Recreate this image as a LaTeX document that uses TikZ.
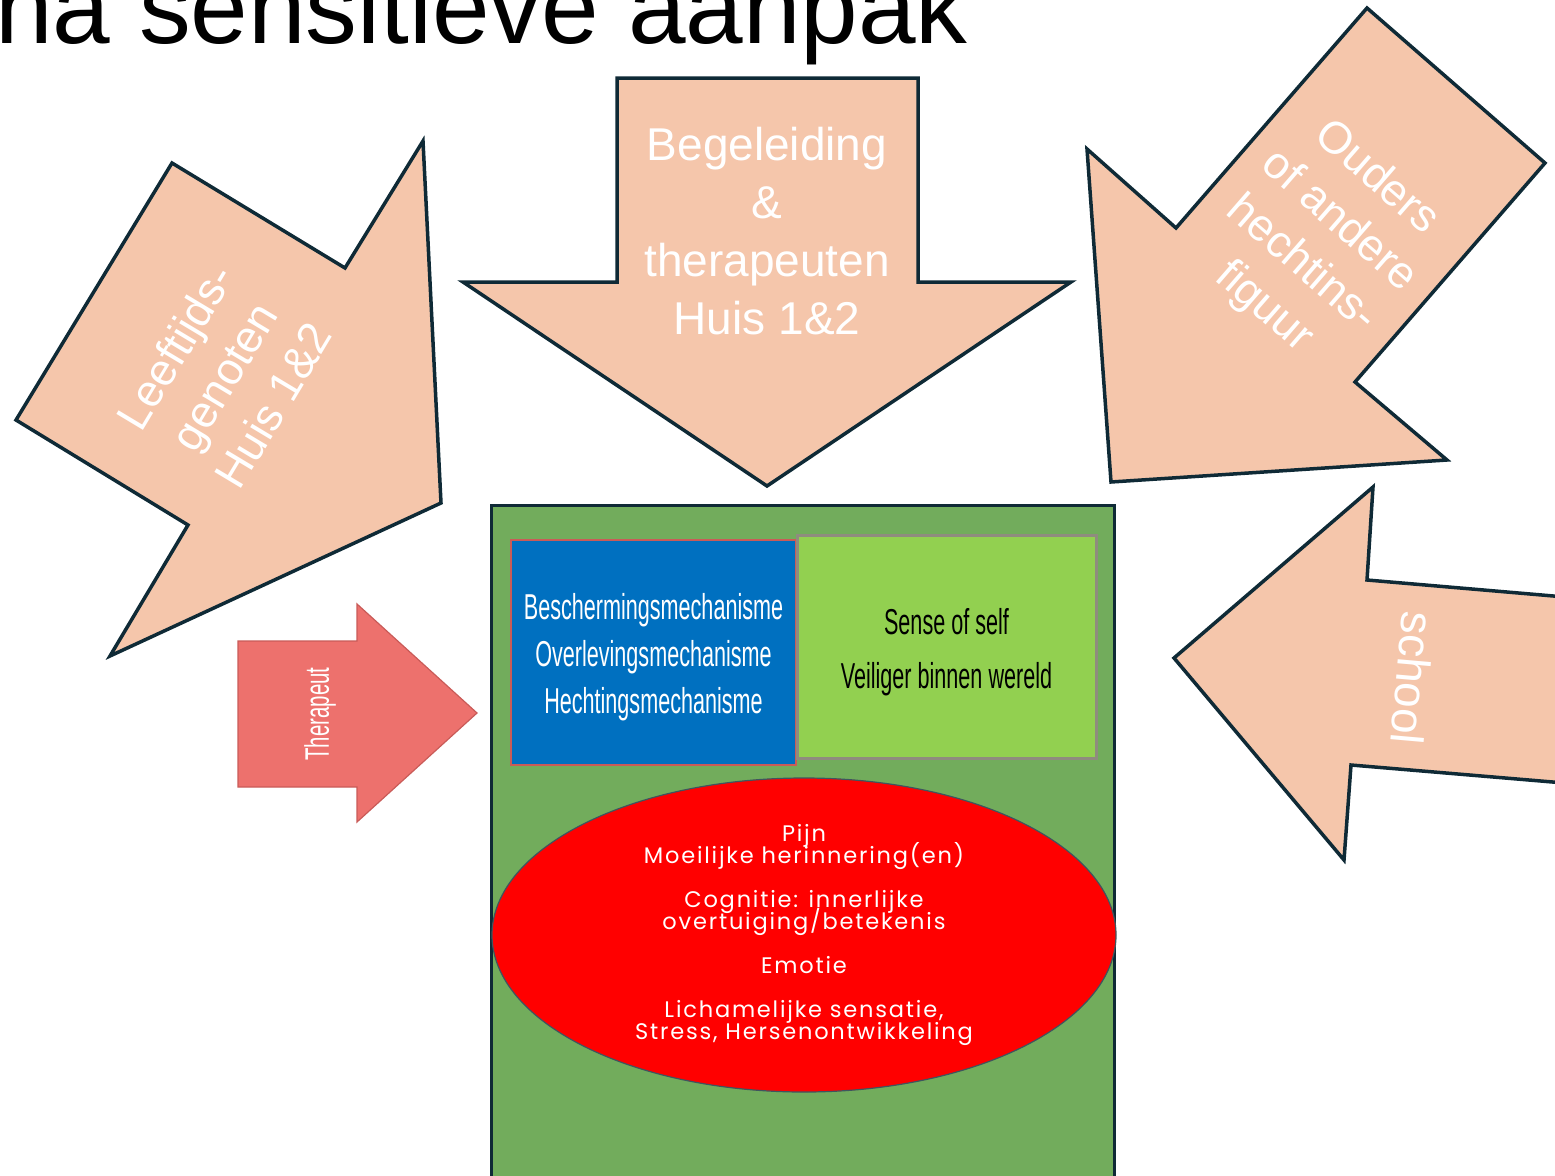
\documentclass[tikz,border=0pt]{standalone}
\usepackage{fontspec}
\setmainfont{Liberation Sans}
\newfontfamily\narrowfont[FakeStretch=0.6]{Liberation Sans}
\newfontfamily\spacedfont[LetterSpace=8]{Poppins}
\newcommand\corefont{\spacedfont\fontsize{22.5}{22}\selectfont\setlength{\lineskiplimit}{-50pt}}
\usetikzlibrary{shapes.geometric}
\definecolor{peach}{HTML}{F5C6AB}
\definecolor{inkline}{HTML}{0F2A36}
\definecolor{boxgreen}{HTML}{72AC5C}
\definecolor{limegreen}{HTML}{92D050}
\definecolor{mechblue}{HTML}{0070C0}
\definecolor{salmon}{HTML}{ED716D}
\definecolor{salmonline}{HTML}{C95B58}
\definecolor{frame}{HTML}{8F8C7E}

\begin{document}
\begin{tikzpicture}[x=1pt,y=-1pt,
    bigarrow/.style={fill=peach, draw=inkline, line width=3.5pt, line join=miter},
    arrowtext/.style={text=white, align=center, inner sep=0pt, font=\fontsize{45}{57}\selectfont},
    mechtext/.style={align=center, inner sep=0pt, font=\narrowfont\fontsize{36}{47}\selectfont}]
    \useasboundingbox (0,0) rectangle (1555,1175);
    \clip (0,0) rectangle (1555,1175);

    % title, cut off by the page
    \node[anchor=base east, inner sep=0pt, font=\fontsize{103.5}{110}\selectfont] (title) at (968,43) {na sensitieve aanpak};

    % big arrows
    \draw[bigarrow] (172,163) -- (345,268) -- (423,141) -- (441,503) -- (110,656) -- (188,525) -- (16,420) -- cycle;
    \node[arrowtext, rotate=59] (peers) at (224,376) {Leeftijds-\\genoten\\Huis 1\&2};

    \draw[bigarrow] (617,78) -- (918,78) -- (918,282) -- (1071,282) -- (767,486) -- (463,282) -- (617,282) -- cycle;
    \node[arrowtext, font=\fontsize{46}{58}\selectfont] (staff) at (767,231) {Begeleiding\\\&\\therapeuten\\Huis 1\&2};

    \draw[bigarrow] (1367,8) -- (1545,163) -- (1355,382) -- (1447,460) -- (1111,482) -- (1087,149) -- (1176,228) -- cycle;
    \node[arrowtext, rotate=-41] (parents) at (1320,243) {Ouders\\of andere\\hechtins-\\figuur};

    \draw[bigarrow] (1174,658) -- (1373,487) -- (1367,580) -- (1600,600) -- (1600,786) -- (1351,765) -- (1344,860) -- cycle;
    \node[arrowtext, rotate=-95, font=\fontsize{46}{50}\selectfont] (school) at (1413,678) {school};

    % therapeut
    \draw[fill=salmon, draw=salmonline, line width=1.2pt] (238,641) -- (357,641) -- (357,604) -- (477,713) -- (357,822) -- (357,787) -- (238,787) -- cycle;
    \node[mechtext, text=white, rotate=90, font=\narrowfont\fontsize{34}{40}\selectfont] (therapist) at (320,714) {Therapeut};

    % child
    \draw[fill=boxgreen, draw=inkline, line width=3pt] (491,505) rectangle (1114,1200);
    \node[draw=salmonline, line width=1.5pt, fill=mechblue, minimum width=285pt, minimum height=225pt] (mech) at (653.5,652.5) {};
    \node[mechtext, text=white] (mechlabel) at ([yshift=-5pt]mech.center)
          {Beschermingsmechanisme\\Overlevingsmechanisme\\Hechtingsmechanisme};
    \node[draw=frame, line width=3pt, fill=limegreen, minimum width=299pt, minimum height=223pt] (self) at (946.5,646.5) {};
    \node[mechtext, font=\narrowfont\fontsize{36}{54}\selectfont] (selflabel) at ([yshift=-6pt]self.center)
          {Sense of self\\Veiliger binnen wereld};
    \node[ellipse, fill=red, draw=inkline!80, line width=1.2pt, minimum width=624pt, minimum height=314pt,
          inner sep=0pt, text=white, align=center, font=\corefont] (core) at (804,935)
          {Pijn\\Moeilijke herinnering(en)\\[22pt]Cognitie: innerlijke\\overtuiging/betekenis\\[22pt]Emotie\\[22pt]Lichamelijke sensatie,\\Stress, Hersenontwikkeling};
\end{tikzpicture}
\end{document}
